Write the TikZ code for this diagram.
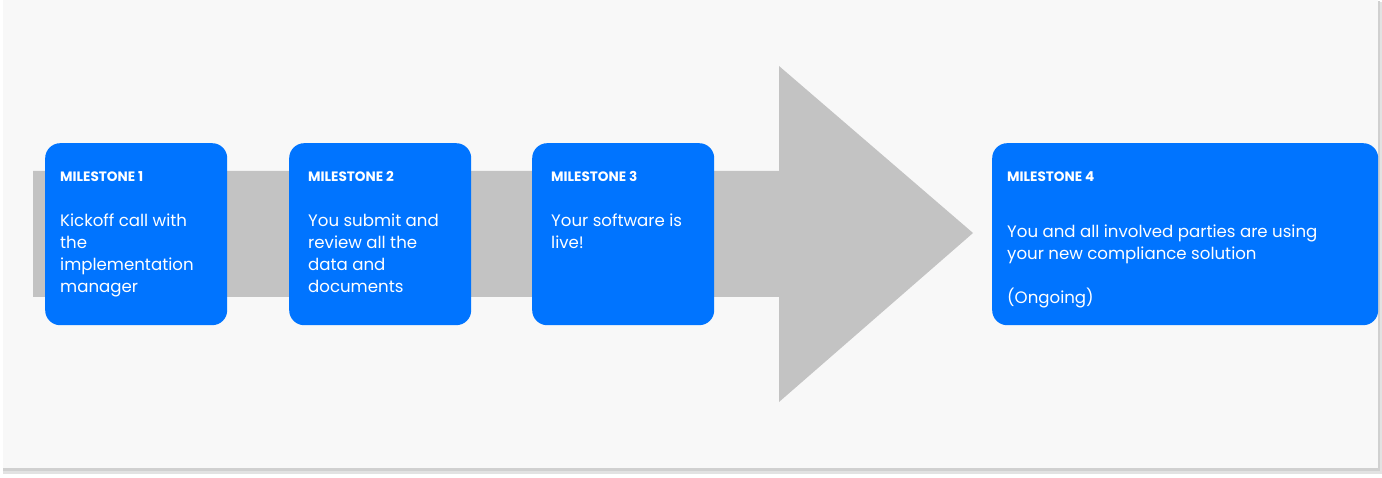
\documentclass[tikz,border=0pt]{standalone}
\usepackage{fontspec}
\setmainfont{Poppins}
\usetikzlibrary{positioning}
\definecolor{panelbg}{HTML}{F8F8F8}
\definecolor{panelshadow}{HTML}{E2E2E2}
\definecolor{panelshadowin}{HTML}{D0D0D0}
\definecolor{arrowgray}{HTML}{C3C3C3}
\definecolor{mileblue}{HTML}{0074FF}

\begin{document}
\begin{tikzpicture}[x=1pt, y=-1pt,
	milebox/.style={fill=mileblue, rounded corners=15pt, inner sep=0pt, anchor=north west, minimum height=182pt},
	milehead/.style={text=white, inner sep=0pt, anchor=base west, font=\fontsize{13.6}{16}\selectfont\bfseries},
	milebody/.style={text=white, inner sep=0pt, anchor=north west, align=left, font=\fontsize{16.6}{22}\selectfont}]
	% Fond de page et panneau ombré
	\useasboundingbox (0,0) rectangle (1382,478);
	\fill[white] (0,0) rectangle (1382,478);
	\fill[panelshadow] (3,2) rectangle (1382,474);
	\fill[panelshadowin] (3,1) rectangle (1380,471);
	\fill[panelbg] (3,0) rectangle (1378,468);
	% Grande flèche grise
	\path (33,171) coordinate (A)
	(779,171) coordinate (B)
	(779,66) coordinate (C)
	(973,233) coordinate (D)
	(779,402) coordinate (E)
	(779,297) coordinate (F)
	(33,297) coordinate (G);
	\fill[arrowgray] (A) -- (B) -- (C) -- (D) -- (E) -- (F) -- (G) -- cycle;
	% Cases des jalons (numéro / gauche / largeur / retrait du texte)
	\foreach \n/\x/\w/\d in {1/45/182/15, 2/289/182/19, 3/532/182/19, 4/992/386/15}{
		\node[milebox, minimum width=\w pt] (m\n) at (\x,143) {};
		\node[milehead] (h\n) at ([shift={(\d,39)}]m\n.north west) {MILESTONE \n};
		\coordinate (t\n) at ([shift={(\d,71)}]m\n.north west);
	}
	% Textes des jalons
	\node[milebody] (b1) at (t1) {Kickoff call with\\the\\implementation\\manager};
	\node[milebody] (b2) at (t2) {You submit and\\review all the\\data and\\documents};
	\node[milebody] (b3) at (t3) {Your software is\\live!};
	\node[milebody] (b4) at ([yshift=-11pt]t4) {You and all involved parties are using\\your new compliance solution\\[22pt](Ongoing)};
\end{tikzpicture}
\end{document}
